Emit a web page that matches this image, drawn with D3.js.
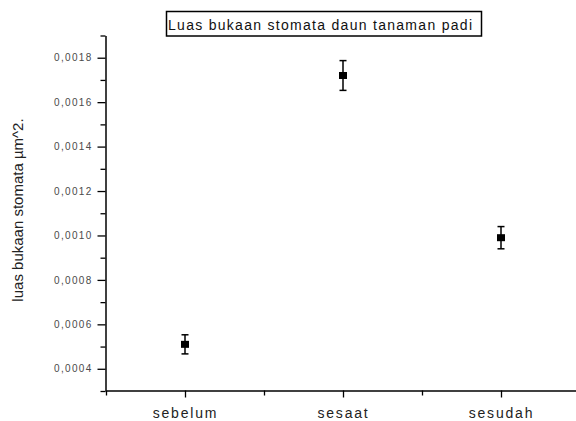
<!DOCTYPE html>
<html>
<head>
<meta charset="utf-8">
<script src="https://cdn.jsdelivr.net/npm/d3@7"></script>
<style>
  body { margin: 0; background: #fff; }
  svg { display: block; font-family: "Liberation Sans", Arial, sans-serif; }
</style>
</head>
<body>
<svg width="576" height="421"></svg>
<script>
// data
var categories = ["sebelum", "sesaat", "sesudah"];
var means = [0.00051, 0.00172, 0.00099];
var errors = [0.000043, 0.000067, 0.00005];
var yTicks = [0.0004, 0.0006, 0.0008, 0.0010, 0.0012, 0.0014, 0.0016, 0.0018];
var yMinor = [0.0003, 0.0005, 0.0007, 0.0009, 0.0011, 0.0013, 0.0015, 0.0017, 0.0019];
var xMinor = [0.5, 1.5, 2.5, 3.5];

var svg = d3.select("svg"),
    width = +svg.attr("width"),
    height = +svg.attr("height");

var x = d3.scaleLinear().domain([0.5, 3.5]).range([106, 580]),
    y = d3.scaleLinear().domain([0.0003, 0.0019]).range([391, 35.5]);

var fmt = d3.formatLocale({decimal: ",", thousands: ".", grouping: [3], currency: ["", ""]}).format(".4f");

// minor ticks first (no labels)
svg.append("g")
    .attr("transform", "translate(105.5,0)")
    .call(d3.axisLeft(y).tickValues(yMinor).tickSize(5).tickFormat(""))
    .call(function(g) { g.select(".domain").remove(); })
    .selectAll("line").attr("stroke", "#000").attr("stroke-width", 1.3);

svg.append("g")
    .attr("transform", "translate(0,390.5)")
    .call(d3.axisBottom(x).tickValues(xMinor).tickSize(5).tickFormat(""))
    .call(function(g) { g.select(".domain").remove(); })
    .selectAll("line").attr("stroke", "#000").attr("stroke-width", 1.3);

// y axis
var gy = svg.append("g")
    .attr("transform", "translate(105.5,0)")
    .call(d3.axisLeft(y).tickValues(yTicks).tickSize(8).tickSizeOuter(0).tickPadding(5).tickFormat(fmt));
gy.select(".domain").attr("stroke", "#000").attr("stroke-width", 1.5);
gy.selectAll(".tick line").attr("stroke", "#000").attr("stroke-width", 1.3);
gy.selectAll(".tick text")
    .attr("font-size", 10)
    .attr("letter-spacing", 1.3)
    .attr("fill", "#4a4a4a")
    .attr("font-family", "'Liberation Sans', Arial, sans-serif");

// x axis
var gx = svg.append("g")
    .attr("transform", "translate(0,390.5)")
    .call(d3.axisBottom(x).tickValues([1, 2, 3]).tickSize(7).tickSizeOuter(0).tickPadding(11)
        .tickFormat(function(d) { return categories[d - 1]; }));
gx.select(".domain").attr("stroke", "#000").attr("stroke-width", 1.5);
gx.selectAll(".tick line").attr("stroke", "#000").attr("stroke-width", 1.3);
gx.selectAll(".tick text")
    .attr("font-size", 14)
    .attr("letter-spacing", 1.8)
    .attr("fill", "#222")
    .attr("font-family", "'Liberation Sans', Arial, sans-serif");

// y axis title
svg.append("text")
    .attr("transform", "translate(23,210) rotate(-90)")
    .attr("text-anchor", "middle")
    .attr("font-size", 15)
    .attr("fill", "#222")
    .text("luas bukaan stomata µm^2.");

// chart title in a box
svg.append("rect")
    .attr("x", 166.5).attr("y", 11.5)
    .attr("width", 315).attr("height", 24.5)
    .attr("fill", "none").attr("stroke", "#000").attr("stroke-width", 1.5);
svg.append("text")
    .attr("x", 168).attr("y", 29.5)
    .attr("font-size", 14)
    .attr("textLength", 304)
    .attr("lengthAdjust", "spacing")
    .attr("fill", "#111")
    .text("Luas bukaan stomata daun tanaman padi");

// error bars + square markers
var pts = categories.map(function(c, i) {
    return {pos: i + 1, mean: means[i], err: errors[i]};
});

var pt = svg.selectAll(".pt")
    .data(pts)
    .enter().append("g")
    .attr("class", "pt");

pt.append("line")
    .attr("x1", function(d) { return x(d.pos); })
    .attr("x2", function(d) { return x(d.pos); })
    .attr("y1", function(d) { return y(d.mean + d.err); })
    .attr("y2", function(d) { return y(d.mean - d.err); })
    .attr("stroke", "#000").attr("stroke-width", 1.5);

pt.selectAll(".cap")
    .data(function(d) { return [d.mean + d.err, d.mean - d.err].map(function(v) { return {pos: d.pos, v: v}; }); })
    .enter().append("line")
    .attr("class", "cap")
    .attr("x1", function(d) { return x(d.pos) - 3.5; })
    .attr("x2", function(d) { return x(d.pos) + 3.5; })
    .attr("y1", function(d) { return y(d.v); })
    .attr("y2", function(d) { return y(d.v); })
    .attr("stroke", "#000").attr("stroke-width", 1.5);

pt.append("rect")
    .attr("x", function(d) { return x(d.pos) - 4; })
    .attr("y", function(d) { return y(d.mean) - 3.5; })
    .attr("width", 8)
    .attr("height", 7)
    .attr("fill", "#000");
</script>
</body>
</html>
